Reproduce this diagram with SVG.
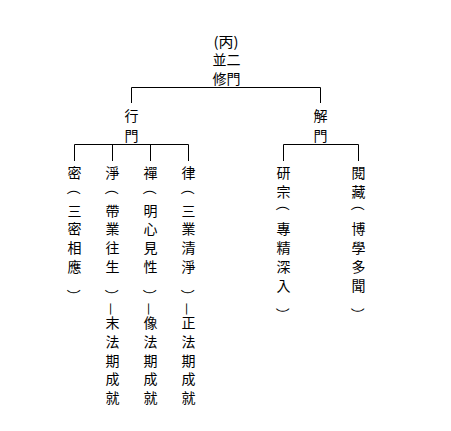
<svg xmlns="http://www.w3.org/2000/svg" width="451" height="431" viewBox="0 0 451 431">
<style>
text { font-family: "Noto Sans CJK TC", "Noto Sans CJK SC", sans-serif; font-size: 14px; text-anchor: middle; dominant-baseline: central; fill: #000; }
.c path { fill: none; stroke: #000; stroke-width: 1; }
</style>
<rect width="451" height="431" fill="#fff"/>
<g class="c" id="connectors">
<path d="M131.5 103 V87.5 H320.5 V103"/>
<path d="M74.5 161 V144.5 H188.5 V161 M112.5 144.5 V161 M150.5 144.5 V161"/>
<path d="M283.5 161 V144.5 H358.5 V161"/>
</g>
<g id="root">
<text x="226" y="40.5" font-size="12" textLength="25" lengthAdjust="spacingAndGlyphs">(丙)</text>
<text y="58.5"><tspan x="219.5">並</tspan><tspan x="233.5">二</tspan></text>
<text y="78"><tspan x="219.5">修</tspan><tspan x="233.5">門</tspan></text>
</g>
<g id="xingmen">
<text x="131.5"><tspan y="115">行</tspan><tspan x="131.5" y="135">門</tspan></text>
</g>
<g id="jiemen">
<text x="320.5"><tspan y="115">解</tspan><tspan x="320.5" y="135">門</tspan></text>
</g>
<g id="mi">
<text><tspan x="74.5" y="172">密</tspan><tspan x="74.5" y="209.5">三</tspan><tspan x="74.5" y="228.25">密</tspan><tspan x="74.5" y="247">相</tspan><tspan x="74.5" y="265.75">應</tspan></text>
<text transform="translate(74.5,188) rotate(90)">（</text>
<text transform="translate(74.5,296) rotate(90)">）</text>
</g>
<g id="jing">
<text><tspan x="112.5" y="172">淨</tspan><tspan x="112.5" y="209.5">帶</tspan><tspan x="112.5" y="228.25">業</tspan><tspan x="112.5" y="247">往</tspan><tspan x="112.5" y="265.75">生</tspan><tspan x="112.5" y="322">末</tspan><tspan x="112.5" y="340.75">法</tspan><tspan x="112.5" y="359.5">期</tspan><tspan x="112.5" y="378.25">成</tspan><tspan x="112.5" y="397">就</tspan></text>
<text transform="translate(112.5,188) rotate(90)">（</text>
<text transform="translate(112.5,296) rotate(90)">）</text>
<text transform="translate(112.5,309) rotate(90)">—</text>
</g>
<g id="chan">
<text><tspan x="150.5" y="172">禪</tspan><tspan x="150.5" y="209.5">明</tspan><tspan x="150.5" y="228.25">心</tspan><tspan x="150.5" y="247">見</tspan><tspan x="150.5" y="265.75">性</tspan><tspan x="150.5" y="322">像</tspan><tspan x="150.5" y="340.75">法</tspan><tspan x="150.5" y="359.5">期</tspan><tspan x="150.5" y="378.25">成</tspan><tspan x="150.5" y="397">就</tspan></text>
<text transform="translate(150.5,188) rotate(90)">（</text>
<text transform="translate(150.5,296) rotate(90)">）</text>
<text transform="translate(150.5,309) rotate(90)">—</text>
</g>
<g id="lv">
<text><tspan x="188.5" y="172">律</tspan><tspan x="188.5" y="209.5">三</tspan><tspan x="188.5" y="228.25">業</tspan><tspan x="188.5" y="247">清</tspan><tspan x="188.5" y="265.75">淨</tspan><tspan x="188.5" y="322">正</tspan><tspan x="188.5" y="340.75">法</tspan><tspan x="188.5" y="359.5">期</tspan><tspan x="188.5" y="378.25">成</tspan><tspan x="188.5" y="397">就</tspan></text>
<text transform="translate(188.5,188) rotate(90)">（</text>
<text transform="translate(188.5,296) rotate(90)">）</text>
<text transform="translate(188.5,309) rotate(90)">—</text>
</g>
<g id="yanzong">
<text><tspan x="283.5" y="172">研</tspan><tspan x="283.5" y="190.75">宗</tspan><tspan x="283.5" y="228.25">專</tspan><tspan x="283.5" y="247">精</tspan><tspan x="283.5" y="265.75">深</tspan><tspan x="283.5" y="284.5">入</tspan></text>
<text transform="translate(283.5,204) rotate(90)">（</text>
<text transform="translate(283.5,314.5) rotate(90)">）</text>
</g>
<g id="yuezang">
<text><tspan x="358.5" y="172">閱</tspan><tspan x="358.5" y="190.75">藏</tspan><tspan x="358.5" y="228.25">博</tspan><tspan x="358.5" y="247">學</tspan><tspan x="358.5" y="265.75">多</tspan><tspan x="358.5" y="284.5">聞</tspan></text>
<text transform="translate(358.5,204) rotate(90)">（</text>
<text transform="translate(358.5,314.5) rotate(90)">）</text>
</g>
</svg>
